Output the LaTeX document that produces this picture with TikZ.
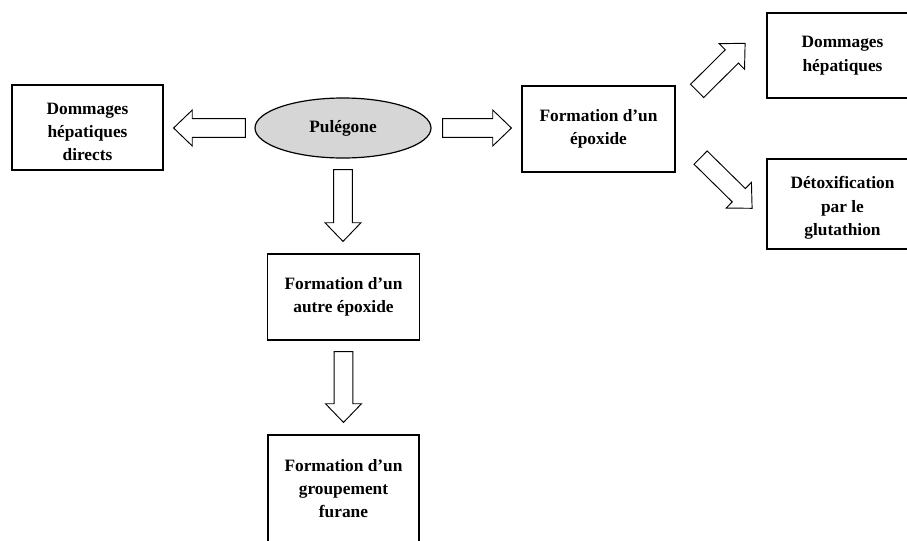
\documentclass[tikz,border=0pt]{standalone}
\usepackage{fontspec}
\setmainfont{Liberation Serif}
\usetikzlibrary{shapes.geometric,calc}
\tikzset{
  txt/.style={align=center, font=\bfseries\fontsize{13}{17.5}\selectfont, inner sep=0pt},
  box/.style={txt, draw, line width=0.9pt},
  oval/.style={txt, draw, ellipse, line width=0.9pt, fill=black!16},
  barrow/.style={draw, line width=0.7pt, fill=white, line join=miter}
}
\newcommand\blockarrow[3]{%
  \coordinate (#3h) at ($(#2)!14pt!(#1)$);
  \draw[barrow] ($(#1)!7pt!90:(#2)$) -- ($(#3h)!7pt!-90:(#1)$) -- ($(#3h)!13.5pt!-90:(#1)$) -- (#2)
     -- ($(#3h)!13.5pt!90:(#1)$) -- ($(#3h)!7pt!90:(#1)$) -- ($(#1)!7pt!-90:(#2)$) -- cycle;
}
\newcommand\lowtop{\rule{0pt}{0pt}\\[-2.5pt]}
\begin{document}
\begin{tikzpicture}[x=0.75pt,y=-0.75pt]
\clip (0,0) rectangle (907,540);
\fill[white] (0,0) rectangle (907,540);
% nodes
\node[oval, minimum width=132pt, minimum height=45pt] (pul) at (343,128) {Pulégone};
\node[box, minimum width=113.25pt, minimum height=63.75pt] (left) at (87.5,127.5) {\lowtop Dommages\\hépatiques\\directs};
\node[box, minimum width=114.75pt, minimum height=64.5pt] (epox) at (598.5,129) {Formation d’un\\époxide};
\node[box, minimum width=113.25pt, minimum height=63.75pt] (dom) at (842.5,55.5) {Dommages\\hépatiques};
\node[box, minimum width=113.25pt, minimum height=67.5pt] (detox) at (842.5,204) {\lowtop Détoxification\\par le\\glutathion};
\node[box, minimum width=114pt, minimum height=64.5pt] (box2) at (343.5,297) {Formation d’un\\autre époxide};
\node[box, minimum width=113.25pt, minimum height=80.25pt] (box3) at (343.5,488.5) {Formation d’un\\groupement\\furane};
% arrow end points
\coordinate (a1t) at ($(pul.west)+(-9,0)$);
\coordinate (a1h) at ($(left.east|-pul.west)+(10,0)$);
\coordinate (a2t) at ($(pul.east)+(11,0)$);
\coordinate (a2h) at ($(epox.west|-pul.east)+(-10,0)$);
\coordinate (a3t) at ($(pul.south)+(0,11)$);
\coordinate (a3h) at ($(pul.south|-box2.north)+(0,-12)$);
\coordinate (a4t) at ($(box2.south)+(0,11)$);
\coordinate (a4h) at ($(box3.north)+(0,-12)$);
\coordinate (a5t) at ($(epox.north east)+(21.5,5.5)$);
\coordinate (a5h) at ($(dom.west)+(-21.3,-12.2)$);
\coordinate (a6t) at ($(epox.south east)+(25,-15)$);
\coordinate (a6h) at ($(detox.west)+(-14.3,4.3)$);
% block arrows
\blockarrow{a1t}{a1h}{p1}
\blockarrow{a2t}{a2h}{p2}
\blockarrow{a3t}{a3h}{p3}
\blockarrow{a4t}{a4h}{p4}
\blockarrow{a5t}{a5h}{p5}
\blockarrow{a6t}{a6h}{p6}
\end{tikzpicture}
\end{document}
